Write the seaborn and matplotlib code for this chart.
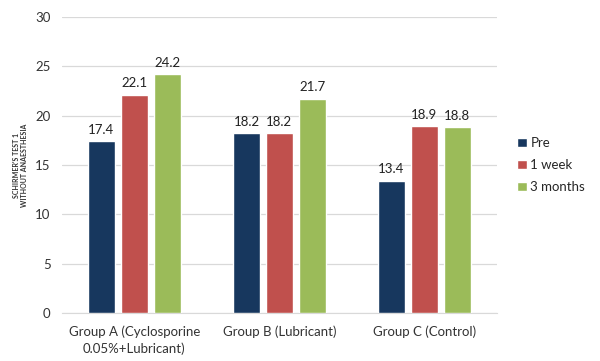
import numpy as np
import pandas as pd
import matplotlib
matplotlib.use("Agg")
import matplotlib.pyplot as plt
import seaborn as sns

groups = ["Group A (Cyclosporine\n0.05%+Lubricant)", "Group B (Lubricant)", "Group C (Control)"]
periods = ["Pre", "1 week", "3 months"]
pre = [17.4, 18.2, 13.4]
week1 = [22.1, 18.2, 18.9]
months3 = [24.2, 21.7, 18.8]
colors = ["#17375E", "#C0504D", "#9BBB59"]

df = pd.DataFrame({
    "group": groups * 3,
    "period": [p for p in periods for _ in groups],
    "value": pre + week1 + months3,
})

sns.set_style("white")
plt.rcParams["font.family"] = ["Lato", "DejaVu Sans"]

fig = plt.figure(figsize=(6, 3.61), dpi=100)
ax = fig.add_axes([0.103, 0.133, 0.725, 0.820])

sns.barplot(data=df, x="group", y="value", hue="period", hue_order=periods,
            palette=colors, width=0.68, gap=0.18, saturation=1, ax=ax,
            errorbar=None, zorder=3)

for cont in ax.containers:
    ax.bar_label(cont, fmt="%.1f", padding=4, fontsize=9.5, color="#222222")

ax.set_ylim(0, 30)
ax.set_yticks(np.arange(0, 31, 5))
ax.set_xlim(-0.5, 2.5)
ax.yaxis.grid(True, color="#D9D9D9", linewidth=0.9, zorder=0)
ax.set_axisbelow(True)
for s in ["top", "right", "left"]:
    ax.spines[s].set_visible(False)
ax.spines["bottom"].set_color("#D9D9D9")
ax.tick_params(axis="y", length=0, labelsize=9.5, colors="#333333", pad=8)
ax.tick_params(axis="x", length=0, labelsize=9.5, colors="#333333", pad=9)
for lab in ax.get_xticklabels():
    lab.set_linespacing(1.4)
ax.set_xlabel("")
ax.set_ylabel("SCHIRMER'S TEST 1\nWITHOUT ANAESTHESIA", fontsize=5, fontweight="bold",
              color="#333333")
ax.yaxis.set_label_coords(-0.078, 0.5)

ax.legend(loc="center left", bbox_to_anchor=(1.035, 0.5), frameon=False,
          fontsize=9.5, handlelength=0.7, handleheight=0.7, handletextpad=0.3,
          labelspacing=0.75, borderaxespad=0)

fig.savefig("out.png", dpi=100)
